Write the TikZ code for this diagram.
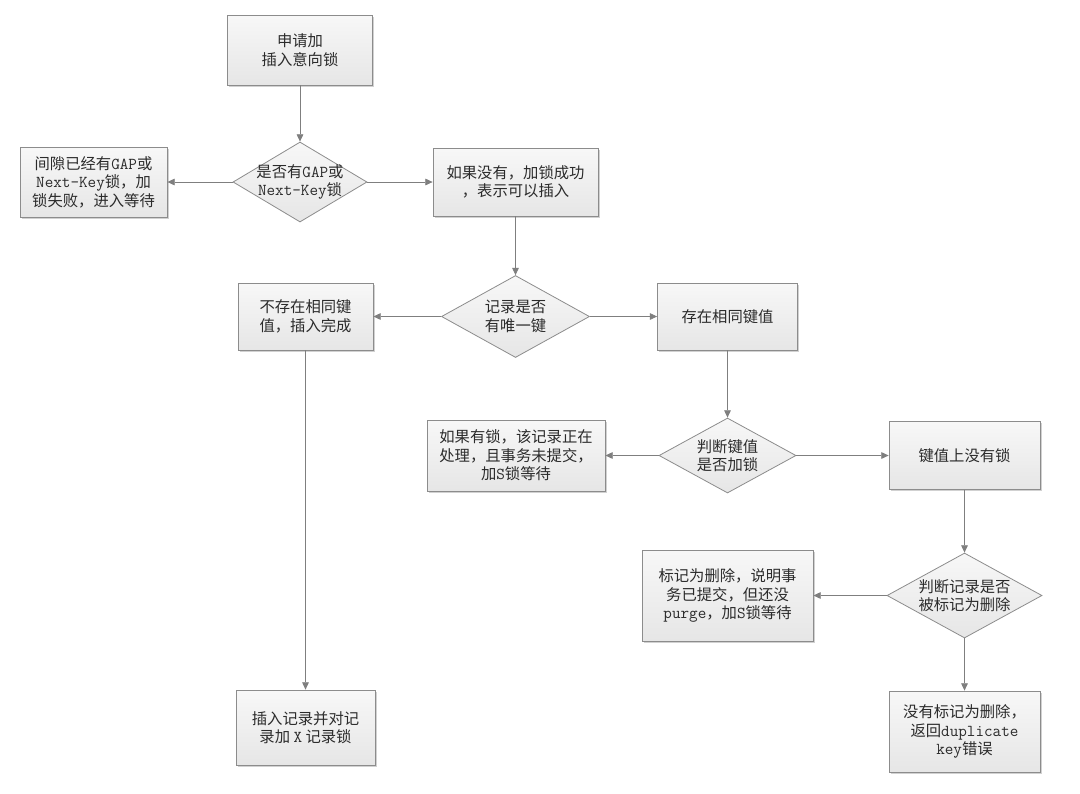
\documentclass[tikz,border=0pt]{standalone}
\usepackage{fontspec}
\setmainfont{Noto Sans CJK SC}
\newcommand\lat{\ttfamily\fontsize{12.5}{13.8}\selectfont}
\usetikzlibrary{shapes.geometric,arrows.meta,shadows}
\definecolor{lc}{HTML}{7F7F7F}
\definecolor{bc}{HTML}{8C8C8C}
\definecolor{tc}{HTML}{2B2B2B}
\definecolor{fb}{HTML}{E6E6E6}
\tikzset{
  base/.style={draw=bc, line width=0.6pt, top color=white!97!black, bottom color=fb, text=tc, align=center,
    font=\fontsize{11.5}{13.8}\selectfont, inner sep=0pt},
  box/.style 2 args={base, rectangle, minimum width={#1*0.75pt}, minimum height={#2*0.75pt},
    drop shadow={shadow xshift=1.2pt, shadow yshift=-1.2pt, fill=black, opacity=0.18}},
  dia/.style n args={3}{base, diamond, inner sep=-5pt, minimum width={#1*0.75pt}, minimum height={#2*0.75pt}, aspect=#3},
  arr/.style={draw=lc, line width=0.6pt, -{Triangle[length=5.5pt,width=5pt]}}
}
\begin{document}
\begin{tikzpicture}[x=0.75pt,y=-0.75pt]
\fill[white] (0,0) rectangle (1080,793);
\useasboundingbox (0,0) rectangle (1080,793);

\node[box={145}{70}] (n1) at (300,50) {申请加\\插入意向锁};
\node[dia={134}{80}{1.68}] (d1) at (300,182) {是否有{\lat GAP}或\\{\lat Next-Key}锁};
\node[box={147}{70}] (nl) at (93.5,182) {间隙已经有{\lat GAP}或\\{\lat Next-Key}锁，加\\锁失败，进入等待};
\node[box={165}{68}] (nr) at (515.5,182) {如果没有，加锁成功\\，表示可以插入};
\node[dia={148}{82}{1.8}] (d2) at (515.5,316.5) {记录是否\\有唯一键};
\node[box={135}{67}] (n3) at (305.5,316.5) {不存在相同键\\值，插入完成};
\node[box={140}{67}] (n4) at (727.5,316.5) {存在相同键值};
\node[dia={137}{75}{1.83}] (d3) at (727.5,455.5) {判断键值\\是否加锁};
\node[box={178}{71}] (n5) at (516,455.5) {如果有锁，该记录正在\\处理，且事务未提交，\\加{\lat S}锁等待};
\node[box={151}{68}] (n6) at (964.5,455.5) {键值上没有锁};
\node[dia={155}{85}{1.82}] (d4) at (964.5,595.5) {判断记录是否\\被标记为删除};
\node[box={171}{91}] (n7) at (727.5,595.5) {标记为删除，说明事\\务已提交，但还没\\{\lat purge}，加{\lat S}锁等待};
\node[box={151}{81}] (n8) at (964.5,731.5) {没有标记为删除，\\返回{\lat duplicate}\\{\lat key}错误};
\node[box={139}{75}] (n9) at (305.5,727.5) {插入记录并对记\\录加 {\lat X} 记录锁};

\draw[arr] (n1.south) -- (d1.north);
\draw[arr] (d1.west) -- (nl.east);
\draw[arr] (d1.east) -- (nr.west);
\draw[arr] (nr.south) -- (d2.north);
\draw[arr] (d2.west) -- (n3.east);
\draw[arr] (d2.east) -- (n4.west);
\draw[arr] (n4.south) -- (d3.north);
\draw[arr] (d3.west) -- (n5.east);
\draw[arr] (d3.east) -- (n6.west);
\draw[arr] (n6.south) -- (d4.north);
\draw[arr] (d4.west) -- (n7.east);
\draw[arr] (d4.south) -- (n8.north);
\draw[arr] (n3.south) -- (n9.north);
\end{tikzpicture}
\end{document}
